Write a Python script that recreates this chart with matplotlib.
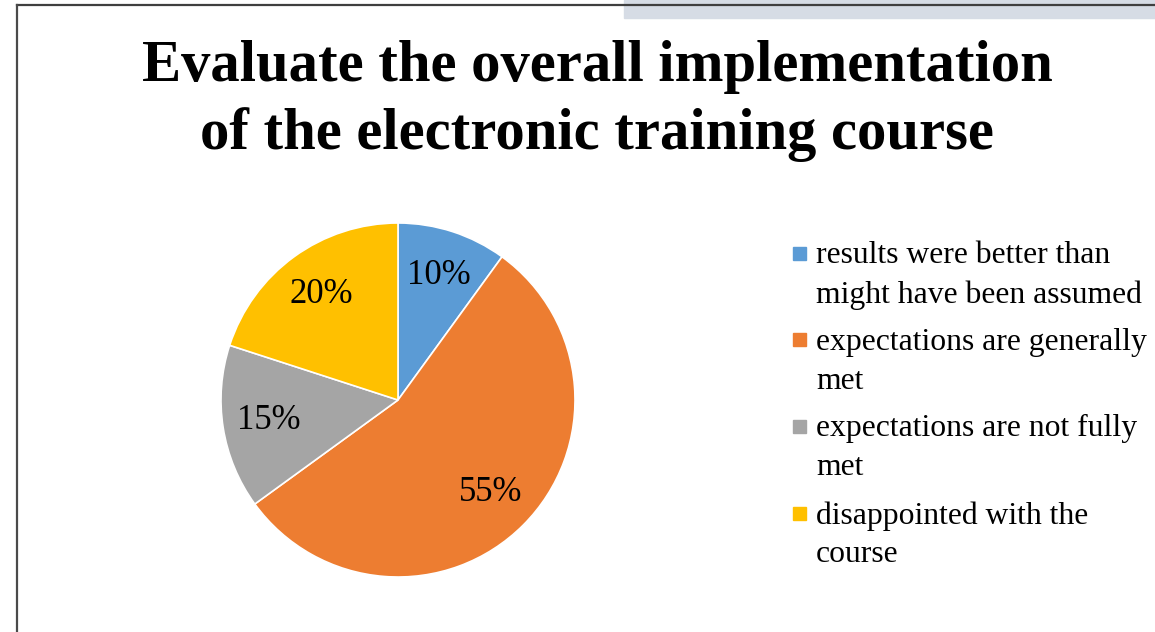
import matplotlib
matplotlib.use('Agg')

import matplotlib.pyplot as plt
from matplotlib.patches import Rectangle
from matplotlib.lines import Line2D

categories = [
    'results were better than\nmight have been assumed',
    'expectations are generally\nmet',
    'expectations are not fully\nmet',
    'disappointed with the\ncourse',
]
shares = [10, 55, 15, 20]
colors = ['#5b9bd5', '#ed7d31', '#a5a5a5', '#ffc000']

title = 'Evaluate the overall implementation\nof the electronic training course'

plt.rcParams['font.family'] = ['Liberation Serif', 'DejaVu Serif']

W, H = 1155, 632
fig = plt.figure(figsize=(W / 100, H / 100), dpi=100)
fig.patch.set_facecolor('white')

# slide decorations: grey band top right and frame lines
fig.patches.append(Rectangle((624 / W, 1 - 17.5 / H), 1, 17.5 / H,
                             transform=fig.transFigure, color='#d6dce5',
                             zorder=0))
fig.lines.append(Line2D([16.5 / W, 1], [1 - 4.8 / H, 1 - 4.8 / H],
                        transform=fig.transFigure, color='#3f3f3f', lw=1.6))
fig.lines.append(Line2D([16.5 / W, 16.5 / W], [0, 1 - 4.8 / H],
                        transform=fig.transFigure, color='#4a4a4a', lw=1.6))

fig.text(597 / W, 1 - 101 / H, title, ha='center', va='center',
         fontsize=42.2, fontweight='bold', linespacing=1.29)

# pie
cx, cy, r = 398, 400, 177
ax = fig.add_axes([(cx - r) / W, (H - cy - r) / H, 2 * r / W, 2 * r / H])
wedges, texts, autotexts = ax.pie(
    shares,
    colors=colors,
    startangle=90,
    counterclock=False,
    autopct='%d%%',
    pctdistance=0.74,
    wedgeprops={'edgecolor': 'white', 'linewidth': 1.2},
    textprops={'fontsize': 25, 'color': 'black'},
)
ax.set_xlim(-1, 1)
ax.set_ylim(-1, 1)
ax.set_aspect('equal')
ax.axis('off')

# legend
y0 = 253
step = 86.7
for i, (lab, col) in enumerate(zip(categories, colors)):
    y = y0 + i * step
    fig.patches.append(Rectangle((793 / W, 1 - (y + 6.5) / H), 13 / W, 13 / H,
                                 transform=fig.transFigure, color=col))
    fig.text(816 / W, 1 - (y - 12) / H, lab, ha='left', va='top',
             fontsize=22.8, linespacing=1.45)

fig.savefig('out.png', dpi=100)
plt.close(fig)
